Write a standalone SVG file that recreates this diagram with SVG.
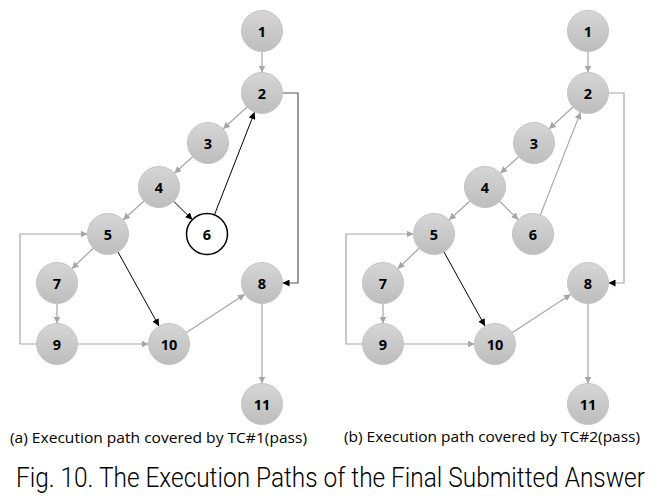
<svg xmlns="http://www.w3.org/2000/svg" width="662" height="499" viewBox="0 0 662 499">
<defs>
<linearGradient id="nodeFill" x1="0" y1="0" x2="0" y2="1">
<stop offset="0" stop-color="#d6d6d6"/>
<stop offset="1" stop-color="#bdbdbd"/>
</linearGradient>
<marker id="ag" viewBox="0 0 10 10" refX="10" refY="5" markerWidth="7" markerHeight="7" markerUnits="userSpaceOnUse" orient="auto">
<path d="M0,0 L10,5 L0,10 z" fill="#a6a6a6"/>
</marker>
<marker id="ab" viewBox="0 0 10 10" refX="10" refY="5" markerWidth="7" markerHeight="7" markerUnits="userSpaceOnUse" orient="auto">
<path d="M0,0 L10,5 L0,10 z" fill="#000"/>
</marker>
</defs>
<style>
.n circle{fill:url(#nodeFill);stroke:#c4c4c4;stroke-width:1}
.n.w circle{fill:#fff;stroke:#000;stroke-width:1.5}
.n text{font-family:"Open Sans","Noto Sans",sans-serif;font-weight:bold;font-size:14.5px;text-anchor:middle;dominant-baseline:central;fill:#000}
.g{stroke:#a6a6a6;stroke-width:1.2;fill:none;marker-end:url(#ag)}
.b{stroke:#000;stroke-width:1;fill:none;marker-end:url(#ab)}
.d{stroke:#595959;stroke-width:1.2;fill:none;marker-end:url(#ab)}
.l{stroke:#a6a6a6;stroke-width:1.2;fill:none;marker-end:url(#ab)}
.cap{font-family:"Open Sans","Noto Sans",sans-serif;font-size:14.5px;fill:#000}
.title{font-family:Roboto,"Liberation Sans",sans-serif;font-weight:300;font-size:28px;fill:#000}
</style>
<rect width="662" height="499" fill="#fff"/>
<g id="connectors">
<!-- left graph -->
<line class="g" x1="262" y1="51.5" x2="262" y2="72.5"/>
<line class="g" x1="247" y1="107" x2="223" y2="129"/>
<line class="g" x1="192.7" y1="156.7" x2="174.3" y2="173.3"/>
<line class="g" x1="144" y1="201" x2="123" y2="220"/>
<line class="b" x1="173.6" y1="201.3" x2="192.4" y2="219.7"/>
<line class="b" x1="214.4" y1="214.9" x2="254.6" y2="112.1"/>
<line class="g" x1="93.2" y1="248.2" x2="71.8" y2="268.8"/>
<line class="b" x1="118" y1="252" x2="159" y2="326"/>
<line class="g" x1="57" y1="303.5" x2="57" y2="323.5"/>
<line class="g" x1="77.5" y1="344" x2="148.5" y2="344"/>
<line class="g" x1="186.1" y1="332.7" x2="244.9" y2="294.3"/>
<line class="g" x1="262" y1="303.5" x2="262" y2="383.5"/>
<polyline class="d" points="282.5,93 298,93 298,283 282.5,283"/>
<polyline class="g" points="36.5,344 20,344 20,234 87.5,234"/>
<!-- right graph -->
<line class="g" x1="588" y1="51.5" x2="588" y2="72.5"/>
<line class="g" x1="573" y1="107" x2="549" y2="129"/>
<line class="g" x1="518.7" y1="156.7" x2="500.3" y2="173.3"/>
<line class="g" x1="470" y1="201" x2="449" y2="220"/>
<line class="g" x1="499.6" y1="201.3" x2="518.4" y2="219.7"/>
<line class="g" x1="540.4" y1="214.9" x2="580.6" y2="112.1"/>
<line class="g" x1="419.2" y1="248.2" x2="397.8" y2="268.8"/>
<line class="b" x1="444" y1="252" x2="485" y2="326"/>
<line class="g" x1="383" y1="303.5" x2="383" y2="323.5"/>
<line class="g" x1="403.5" y1="344" x2="474.5" y2="344"/>
<line class="g" x1="512.1" y1="332.7" x2="570.9" y2="294.3"/>
<line class="g" x1="588" y1="303.5" x2="588" y2="383.5"/>
<polyline class="l" points="608.5,93 624,93 624,283 608.5,283"/>
<polyline class="g" points="362.5,344 346,344 346,234 413.5,234"/>
</g>
<g id="a1" class="n"><circle cx="262" cy="31" r="20.5"/><text x="262" y="31">1</text></g>
<g id="a2" class="n"><circle cx="262" cy="93" r="20.5"/><text x="262" y="93">2</text></g>
<g id="a3" class="n"><circle cx="208" cy="143" r="20.5"/><text x="208" y="143">3</text></g>
<g id="a4" class="n"><circle cx="159" cy="187" r="20.5"/><text x="159" y="187">4</text></g>
<g id="a5" class="n"><circle cx="108" cy="234" r="20.5"/><text x="108" y="234">5</text></g>
<g id="a6" class="n w"><circle cx="207" cy="234" r="20.5"/><text x="207" y="234">6</text></g>
<g id="a7" class="n"><circle cx="57" cy="283" r="20.5"/><text x="57" y="283">7</text></g>
<g id="a8" class="n"><circle cx="262" cy="283" r="20.5"/><text x="262" y="283">8</text></g>
<g id="a9" class="n"><circle cx="57" cy="344" r="20.5"/><text x="57" y="344">9</text></g>
<g id="a10" class="n"><circle cx="169" cy="344" r="20.5"/><text x="169" y="344">10</text></g>
<g id="a11" class="n"><circle cx="262" cy="404" r="20.5"/><text x="262" y="404">11</text></g>
<g id="b1" class="n"><circle cx="588" cy="31" r="20.5"/><text x="588" y="31">1</text></g>
<g id="b2" class="n"><circle cx="588" cy="93" r="20.5"/><text x="588" y="93">2</text></g>
<g id="b3" class="n"><circle cx="534" cy="143" r="20.5"/><text x="534" y="143">3</text></g>
<g id="b4" class="n"><circle cx="485" cy="187" r="20.5"/><text x="485" y="187">4</text></g>
<g id="b5" class="n"><circle cx="434" cy="234" r="20.5"/><text x="434" y="234">5</text></g>
<g id="b6" class="n"><circle cx="533" cy="234" r="20.5"/><text x="533" y="234">6</text></g>
<g id="b7" class="n"><circle cx="383" cy="283" r="20.5"/><text x="383" y="283">7</text></g>
<g id="b8" class="n"><circle cx="588" cy="283" r="20.5"/><text x="588" y="283">8</text></g>
<g id="b9" class="n"><circle cx="383" cy="344" r="20.5"/><text x="383" y="344">9</text></g>
<g id="b10" class="n"><circle cx="495" cy="344" r="20.5"/><text x="495" y="344">10</text></g>
<g id="b11" class="n"><circle cx="588" cy="404" r="20.5"/><text x="588" y="404">11</text></g>
<g id="captions">
<text class="cap" x="10" y="443" textLength="297" lengthAdjust="spacingAndGlyphs">(a) Execution path covered by TC#1(pass)</text>
<text class="cap" x="344" y="442" textLength="296" lengthAdjust="spacingAndGlyphs">(b) Execution path covered by TC#2(pass)</text>
<text class="title" transform="translate(16,487) scale(0.82,1)" x="0" y="0" textLength="767" lengthAdjust="spacingAndGlyphs">Fig. 10. The Execution Paths of the Final Submitted Answer</text>
</g>
</svg>
